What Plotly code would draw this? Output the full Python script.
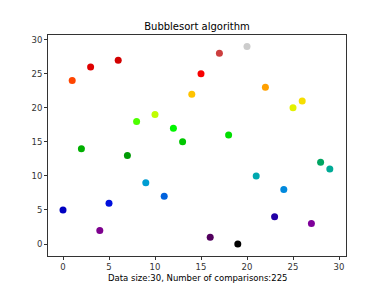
import plotly.graph_objects as go

x_index = list(range(30))
values = [5, 24, 14, 26, 2, 6, 27, 13, 18, 9, 19, 7, 17, 15, 22, 25, 1, 28, 16, 0,
          29, 10, 23, 4, 8, 20, 21, 3, 12, 11]
x_ticks = [0, 5, 10, 15, 20, 25, 30]
y_ticks = [0, 5, 10, 15, 20, 25, 30]
title = "Bubblesort algorithm"
xlabel = "Data size:30, Number of comparisons:225"

# nipy_spectral colormap nodes
red = [0.0, 0.4667, 0.5333, 0.0, 0.0, 0.0, 0.0, 0.0, 0.0, 0.0, 0.0, 0.0, 0.0,
       0.7333, 0.9333, 1.0, 1.0, 1.0, 0.8667, 0.80, 0.80]
green = [0.0, 0.0, 0.0, 0.0, 0.0, 0.4667, 0.6, 0.6667, 0.6667, 0.6, 0.7333, 0.8667,
         1.0, 1.0, 0.9333, 0.8, 0.6, 0.0, 0.0, 0.0, 0.80]
blue = [0.0, 0.5333, 0.6, 0.6667, 0.8667, 0.8667, 0.8667, 0.6667, 0.5333, 0.0, 0.0,
        0.0, 0.0, 0.0, 0.0, 0.0, 0.0, 0.0, 0.0, 0.0, 0.80]
colorscale = [[i * 0.05, "rgb(%d,%d,%d)" % (round(r * 255), round(g * 255), round(b * 255))]
              for i, (r, g, b) in enumerate(zip(red, green, blue))]
colorscale[-1][0] = 1.0

fig = go.Figure(go.Scatter(
    x=x_index, y=values, mode="markers",
    marker=dict(size=7, color=values, colorscale=colorscale, cmin=0, cmax=29,
                line=dict(width=0)),
))

axis_common = dict(showgrid=False, zeroline=False, showline=True, linecolor="#333333",
                   linewidth=1, mirror=True, ticks="outside", ticklen=3, tickcolor="#333333",
                   automargin=False,
                   tickfont=dict(family="DejaVu Sans", size=8.5, color="#333333"))

fig.update_layout(
    width=384, height=288,
    margin=dict(l=48, r=38, t=35, b=32),
    paper_bgcolor="white", plot_bgcolor="white",
    showlegend=False,
    title=dict(text=title, x=(48 + 346) / 2 / 384, xanchor="center", y=1 - 26 / 288,
               yanchor="middle", font=dict(family="DejaVu Sans", size=10, color="black")),
    xaxis=dict(range=[-1.63, 30.76], tickvals=x_ticks, **axis_common),
    yaxis=dict(range=[-1.76, 30.69], tickvals=y_ticks, **axis_common),
    annotations=[dict(text=xlabel, xref="paper", yref="paper", x=0.5, xanchor="center",
                      y=-(278 - 256) / (288 - 35 - 32), yanchor="middle", showarrow=False,
                      font=dict(family="DejaVu Sans", size=8.5, color="black"))],
)

fig.write_html("out.html")
